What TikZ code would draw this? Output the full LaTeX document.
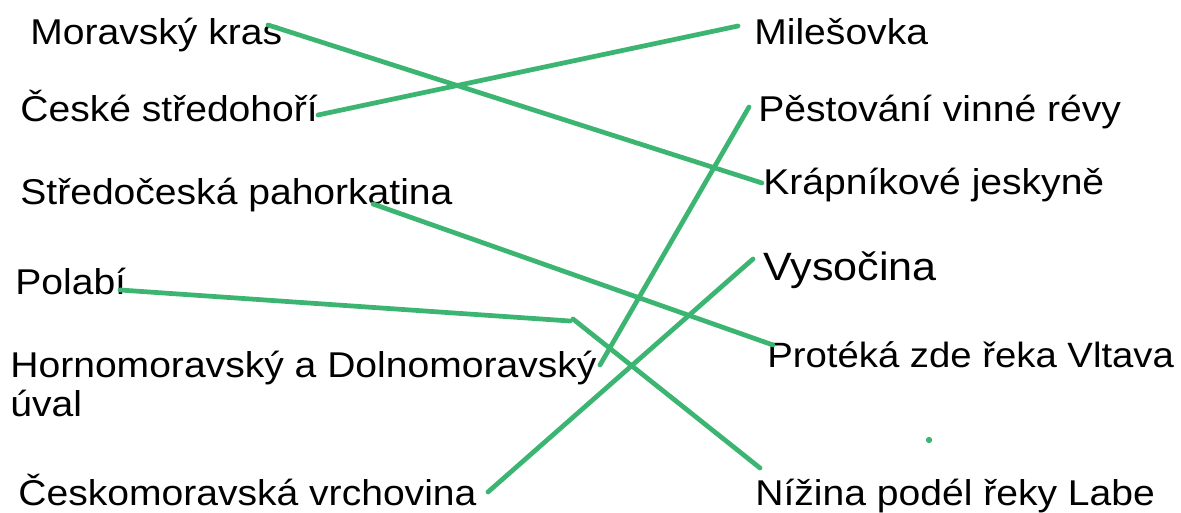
\documentclass[tikz,border=0pt]{standalone}
\usepackage{fontspec}
\setmainfont{Liberation Sans}[FakeStretch=1.09]
\definecolor{linkgreen}{RGB}{61,181,114}

\begin{document}
\begin{tikzpicture}[x=0.02cm, y=-0.02cm,
  txt/.style={anchor=base west, inner sep=0pt, font=\fontsize{20.4}{22.7}\selectfont},
  link/.style={draw=linkgreen, line width=2.7pt, line cap=round}]
\useasboundingbox (0,0) rectangle (1181,513);
% left column
\node[txt] (kras) at (30, 45) {Moravský kras};
\node[txt] (stredohori) at (20, 122) {České středohoří};
\node[txt] (pahorkatina) at (20, 205) {Středočeská pahorkatina};
\node[txt] (polabi) at (15, 295) {Polabí};
\node[txt, align=left] (uval) at (10, 417) {Hornomoravský a Dolnomoravský\\úval}; % base = last line
\node[txt] (vrchovina) at (18, 505) {Českomoravská vrchovina};
% right column
\node[txt] (milesovka) at (754, 45) {Milešovka};
\node[txt] (vino) at (758, 122) {Pěstování vinné révy};
\node[txt] (jeskyne) at (763, 195) {Krápníkové jeskyně};
\node[txt, font=\fontsize{22.5}{26}\selectfont] (vysocina) at (763, 281) {Vysočina};
\node[txt, font=\fontsize{20}{22.7}\selectfont] (vltava) at (767, 368) {Protéká zde řeka Vltava};
\node[txt] (labe) at (755, 505) {Nížina podél řeky Labe};
% line ends
\coordinate (kras-r) at (268, 25); \coordinate (jeskyne-l) at (762, 183);
\coordinate (stredohori-r) at (318, 115); \coordinate (milesovka-l) at (738, 26);
\coordinate (pahorkatina-r) at (373, 204); \coordinate (vltava-l) at (773, 345);
\coordinate (polabi-r) at (120, 290); \coordinate (bend1) at (570, 321); \coordinate (bend2) at (573, 319); \coordinate (labe-l) at (760, 468); % broken line
\coordinate (uval-r) at (600, 365); \coordinate (vino-l) at (749, 107);
\coordinate (vrchovina-r) at (488, 492); \coordinate (vysocina-l) at (753, 259);
\coordinate (dot) at (929, 440);
\draw[link] (kras-r) -- (jeskyne-l);
\draw[link] (stredohori-r) -- (milesovka-l);
\draw[link] (pahorkatina-r) -- (vltava-l);
\draw[link] (polabi-r) -- (bend1) (bend2) -- (labe-l);
\draw[link] (uval-r) -- (vino-l);
\draw[link] (vrchovina-r) -- (vysocina-l);
\fill[linkgreen] (dot) circle (1.8pt);
\end{tikzpicture}
\end{document}
